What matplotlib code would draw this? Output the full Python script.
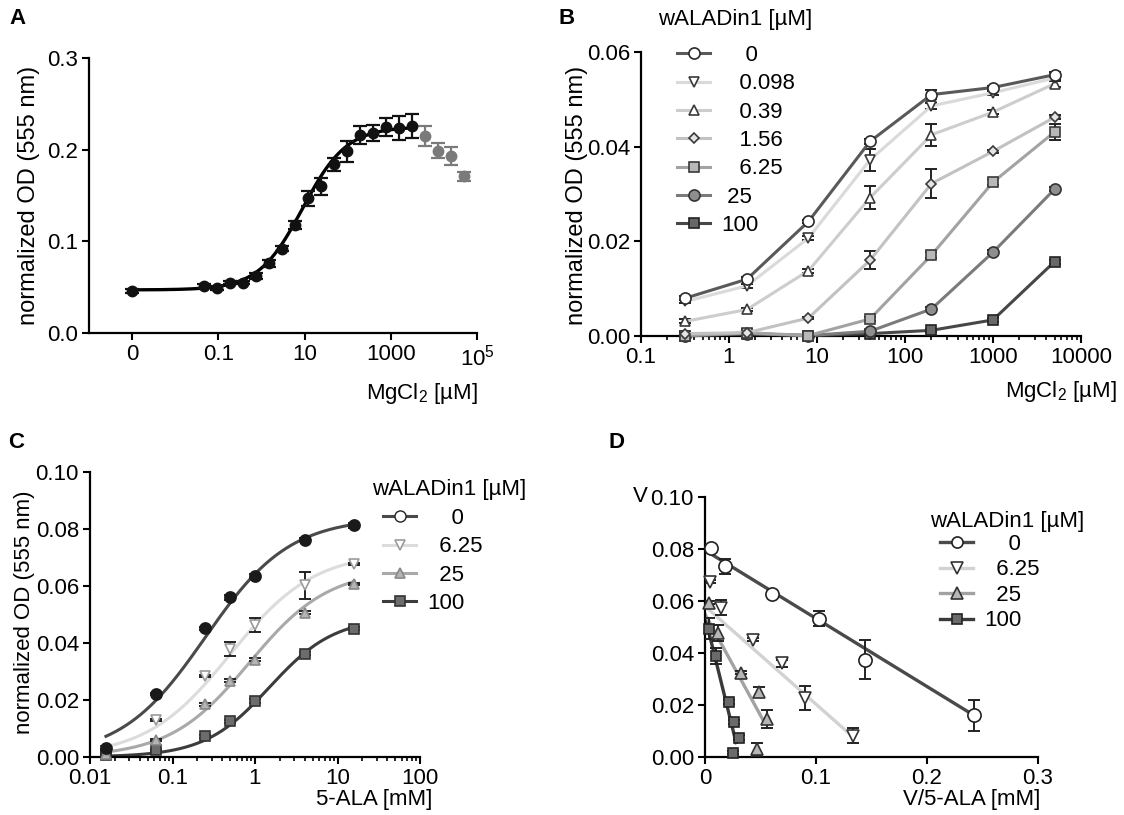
import numpy as np
import matplotlib.pyplot as plt
from matplotlib.ticker import FixedLocator, FixedFormatter, LogLocator, NullLocator, NullFormatter
from matplotlib.lines import Line2D

plt.rcParams['font.family'] = ['Liberation Sans', 'DejaVu Sans']
plt.rcParams['mathtext.fontset'] = 'custom'
plt.rcParams['mathtext.rm'] = 'Liberation Sans'
plt.rcParams['mathtext.it'] = 'Liberation Sans'
plt.rcParams['font.size'] = 16
plt.rcParams['axes.linewidth'] = 1.6

W, H = 1124, 815

# ---- Panel A: MgCl2 titration (0 is drawn at the 1e-3 position) ----
mg_a = [0, 0.0477, 0.0954, 0.191, 0.381, 0.763, 1.53, 3.05, 6.10, 12.2, 24.4,
        48.8, 97.7, 195, 391, 781, 1563, 3125]
od_a = [0.046, 0.051, 0.049, 0.055, 0.055, 0.062, 0.076, 0.092, 0.118, 0.147, 0.160,
        0.184, 0.198, 0.216, 0.218, 0.225, 0.224, 0.226]
err_a = [0.002, 0.002, 0.002, 0.002, 0.002, 0.003, 0.004, 0.003, 0.004, 0.008, 0.009,
         0.007, 0.011, 0.010, 0.009, 0.010, 0.013, 0.013]
mg_a_gray = [6250, 12500, 25000, 50000]
od_a_gray = [0.215, 0.199, 0.193, 0.171]
err_a_gray = [0.011, 0.008, 0.010, 0.005]
# 4PL fit
fit_a = {'bottom': 0.047, 'top': 0.225, 'ec50': 9.0, 'hill': 0.85}

# ---- Panel B: MgCl2 x wALADin1 ----
mg_b = [0.32, 1.6, 8, 40, 200, 1000, 5000]
lab_b = ['0', '0.098', '0.39', '1.56', '6.25', '25', '100']
od_b = {
    '0':     [0.0080, 0.0120, 0.0242, 0.0411, 0.0510, 0.0525, 0.0552],
    '0.098': [0.0073, 0.0106, 0.0207, 0.0372, 0.0486, 0.0514, 0.0545],
    '0.39':  [0.0031, 0.0056, 0.0138, 0.0292, 0.0425, 0.0473, 0.0533],
    '1.56':  [0.0005, 0.0007, 0.0038, 0.0160, 0.0322, 0.0390, 0.0462],
    '6.25':  [0.0001, 0.0007, 0.0001, 0.0036, 0.0171, 0.0325, 0.0431],
    '25':    [0.0001, 0.0005, 0.0001, 0.0010, 0.0057, 0.0177, 0.0310],
    '100':   [0.0000, 0.0005, 0.0001, 0.0005, 0.0012, 0.0034, 0.0157],
}
err_b = {
    '0':     [0.0004, 0.0004, 0.0004, 0.0006, 0.0010, 0.0004, 0.0006],
    '0.098': [0.0004, 0.0004, 0.0004, 0.0023, 0.0006, 0.0004, 0.0004],
    '0.39':  [0.0004, 0.0004, 0.0004, 0.0024, 0.0023, 0.0004, 0.0006],
    '1.56':  [0.0003, 0.0003, 0.0003, 0.0019, 0.0030, 0.0004, 0.0004],
    '6.25':  [0.0003, 0.0003, 0.0003, 0.0004, 0.0006, 0.0006, 0.0017],
    '25':    [0.0003, 0.0003, 0.0003, 0.0003, 0.0004, 0.0004, 0.0004],
    '100':   [0.0003, 0.0003, 0.0003, 0.0003, 0.0003, 0.0004, 0.0004],
}

# ---- Panel C: 5-ALA x wALADin1 ----
ala_c = [0.0156, 0.0625, 0.25, 0.5, 1, 4, 16]
lab_c = ['0', '6.25', '25', '100']
od_c = {
    '0':    [0.0032, 0.0221, 0.0452, 0.0560, 0.0635, 0.0763, 0.0813],
    '6.25': [0.0020, 0.0130, 0.0284, 0.0380, 0.0464, 0.0602, 0.0677],
    '25':   [0.0012, 0.0059, 0.0185, 0.0268, 0.0341, 0.0507, 0.0607],
    '100':  [0.0006, 0.0024, 0.0072, 0.0125, 0.0196, 0.0362, 0.0450],
}
err_c = {
    '0':    [0.0005, 0.0005, 0.0005, 0.0008, 0.0008, 0.0005, 0.0008],
    '6.25': [0.0003, 0.0005, 0.0005, 0.0025, 0.0025, 0.0048, 0.0005],
    '25':   [0.0003, 0.0003, 0.0005, 0.0005, 0.0005, 0.0005, 0.0005],
    '100':  [0.0003, 0.0003, 0.0005, 0.0005, 0.0008, 0.0005, 0.0005],
}
# Hill fits (vmax, K, n)
fit_c = {
    '0':    (0.084, 0.25, 0.85),
    '6.25': (0.072, 0.50, 0.85),
    '25':   (0.066, 0.85, 0.90),
    '100':  (0.049, 1.50, 1.10),
}

# ---- Panel D: Eadie-Hofstee ----
vs_d = {
    '0':    [0.0055, 0.0182, 0.0606, 0.1024, 0.1442, 0.2427],
    '6.25': [0.0045, 0.0145, 0.0433, 0.0691, 0.0897, 0.1333],
    '25':   [0.0039, 0.0121, 0.0321, 0.0485, 0.0561, 0.0464],
    '100':  [0.0033, 0.0100, 0.0215, 0.0261, 0.0306, 0.0251],
}
v_d = {
    '0':    [0.0804, 0.0733, 0.0626, 0.0532, 0.0374, 0.0160],
    '6.25': [0.0674, 0.0575, 0.0451, 0.0360, 0.0227, 0.0082],
    '25':   [0.0594, 0.0477, 0.0324, 0.0250, 0.0147, 0.0030],
    '100':  [0.0493, 0.0389, 0.0211, 0.0134, 0.0075, 0.0017],
}
err_d = {
    '0':    [0.0008, 0.0030, 0.0008, 0.0030, 0.0075, 0.0060],
    '6.25': [0.0005, 0.0030, 0.0005, 0.0015, 0.0045, 0.0030],
    '25':   [0.0005, 0.0030, 0.0005, 0.0020, 0.0035, 0.0025],
    '100':  [0.0040, 0.0030, 0.0008, 0.0008, 0.0008, 0.0005],
}
# linear fits (intercept, slope, last x)
fit_d = {
    '0':    (0.0795, -0.262, 0.245),
    '6.25': (0.0580, -0.377, 0.134),
    '25':   (0.0550, -0.780, 0.053),
    '100':  (0.0540, -1.730, 0.028),
}

# styles: line colour, marker, face, edge, size
sty_b = {
    '0':     ('#595959', 'o', 'white', '#2a2a2a', 8),
    '0.098': ('#dadada', 'v', 'white', '#3a3a3a', 7),
    '0.39':  ('#cdcdcd', '^', 'white', '#3a3a3a', 7),
    '1.56':  ('#c2c2c2', 'D', '#e4e4e4', '#3a3a3a', 5.5),
    '6.25':  ('#a3a3a3', 's', '#b8b8b8', '#3a3a3a', 7.5),
    '25':    ('#7b7b7b', 'o', '#8e8e8e', '#333333', 8),
    '100':   ('#474747', 's', '#686868', '#222222', 7.5),
}
sty_c = {
    '0':    ('#4a4a4a', 'o', '#1a1a1a', '#1a1a1a', 8),
    '6.25': ('#dcdcdc', 'v', 'white', '#9a9a9a', 7.5),
    '25':   ('#a9a9a9', '^', '#b4b4b4', '#888888', 7.5),
    '100':  ('#3c3c3c', 's', '#6c6c6c', '#333333', 7.5),
}
sty_d = {
    '0':    ('#4a4a4a', 'o', 'white', '#222222', 9.5),
    '6.25': ('#d2d2d2', 'v', 'white', '#333333', 8),
    '25':   ('#a2a2a2', '^', '#b6b6b6', '#333333', 8),
    '100':  ('#3a3a3a', 's', '#6a6a6a', '#222222', 7.5),
}
pad = {'0': '    ', '0.098': '   ', '0.39': '   ', '1.56': '   ', '6.25': '   ',
       '25': ' ', '100': ''}
pad_cd = {'0': '    ', '6.25': '  ', '25': '  ', '100': ''}


def add_axes(left, right, top, bottom):
    ax = fig.add_axes([left / W, 1 - bottom / H, (right - left) / W, (bottom - top) / H])
    ax.spines['top'].set_visible(False)
    ax.spines['right'].set_visible(False)
    ax.tick_params(direction='out', length=5, width=1.5, pad=3)
    ax.tick_params(which='minor', direction='out', length=3, width=1.2)
    return ax


def ftext(x, y, s, **kw):
    fig.text(x / W, 1 - y / H, s, **kw)


def legend_at(ax, handles, labels, x, y, spacing=0.33):
    ax.legend(handles, labels, loc='upper left', frameon=False,
              bbox_to_anchor=(x / W, 1 - y / H), bbox_transform=fig.transFigure,
              borderpad=0, handlelength=1.5, handletextpad=0.5, labelspacing=spacing,
              numpoints=1, borderaxespad=0)


fig = plt.figure(figsize=(W / 100, H / 100), dpi=100)

# ---------------- A ----------------
ax = add_axes(89, 477, 58, 333)
xa = [1e-3 if v == 0 else v for v in mg_a]
xf = np.logspace(-3, np.log10(mg_a[-1]), 300)
yf = fit_a['bottom'] + (fit_a['top'] - fit_a['bottom']) / (1 + (fit_a['ec50'] / xf) ** fit_a['hill'])
ax.plot(xf, yf, color='black', lw=2.4, zorder=2)
ax.errorbar(xa, od_a, yerr=err_a, fmt='o', color='#111111', ms=7.5, ecolor='#111111',
            elinewidth=1.6, capsize=5, capthick=1.6, zorder=3)
ax.errorbar(mg_a_gray, od_a_gray, yerr=err_a_gray, fmt='o', color='#7a7a7a', ms=7.5,
            ecolor='#7a7a7a', elinewidth=1.6, capsize=5, capthick=1.6, zorder=3)
ax.set_xscale('log')
ax.set_xlim(1e-4, 1e5)
ax.set_ylim(0, 0.3)
ax.xaxis.set_major_locator(FixedLocator([1e-3, 1e-1, 1e1, 1e3, 1e5]))
ax.xaxis.set_major_formatter(FixedFormatter(['0', '0.1', '10', '1000', r'$10^5$']))
ax.xaxis.set_minor_locator(NullLocator())
ax.set_yticks([0, 0.1, 0.2, 0.3])
ax.set_yticklabels(['0.0', '0.1', '0.2', '0.3'])
ftext(478, 393, r'MgCl$_2$ [µM]', ha='right', va='center')
ftext(29, 195, 'normalized OD (555 nm)', rotation=90, ha='center', va='center', fontsize=17)
ftext(18, 18, 'A', fontweight='bold', ha='center', va='center')

# ---------------- B ----------------
ax = add_axes(641, 1081, 52, 336)
handles = []
for lab in lab_b[::-1]:
    lc, mk, fc, ec, ms = sty_b[lab]
    ax.errorbar(mg_b, od_b[lab], yerr=err_b[lab], fmt='none', ecolor='#222222',
                elinewidth=1.4, capsize=4, capthick=1.4, zorder=2)
    ln, = ax.plot(mg_b, od_b[lab], color=lc, lw=2.2, marker=mk, mfc=fc, mec=ec, mew=1.2,
                  ms=ms, clip_on=False, zorder=3)
    handles.append(ln)
handles = handles[::-1]
ax.set_xscale('log')
ax.set_xlim(0.1, 10000)
ax.set_ylim(0, 0.06)
ax.xaxis.set_major_locator(FixedLocator([0.1, 1, 10, 100, 1000, 10000]))
ax.xaxis.set_major_formatter(FixedFormatter(['0.1', '1', '10', '100', '1000', '10000']))
ax.xaxis.set_minor_locator(LogLocator(base=10, subs=np.arange(2, 10), numticks=20))
ax.xaxis.set_minor_formatter(NullFormatter())
ax.set_yticks([0, 0.02, 0.04, 0.06])
ax.set_yticklabels(['0.00', '0.02', '0.04', '0.06'])
legend_at(ax, handles, [pad[l] + l for l in lab_b], 677, 45)
ftext(658, 20, 'wALADin1 [µM]', ha='left', va='center')
ftext(1117, 392, r'MgCl$_2$ [µM]', ha='right', va='center')
ftext(577, 195, 'normalized OD (555 nm)', rotation=90, ha='center', va='center', fontsize=17)
ftext(567, 18, 'B', fontweight='bold', ha='center', va='center')

# ---------------- C ----------------
ax = add_axes(90, 420, 472, 757)
for lab in lab_c[::-1]:
    lc, mk, fc, ec, ms = sty_c[lab]
    vmax, km, n = fit_c[lab]
    xf = np.logspace(np.log10(ala_c[0]), np.log10(ala_c[-1]), 300)
    ax.plot(xf, vmax * xf ** n / (km ** n + xf ** n), color=lc, lw=2.2, zorder=2)
    ax.errorbar(ala_c, od_c[lab], yerr=err_c[lab], fmt='none', ecolor='#222222',
                elinewidth=1.4, capsize=4, capthick=1.4, zorder=3)
    ax.plot(ala_c, od_c[lab], ls='none', marker=mk, mfc=fc, mec=ec, mew=1.2, ms=ms,
            clip_on=False, zorder=4)
ax.set_xscale('log')
ax.set_xlim(0.01, 100)
ax.set_ylim(0, 0.1)
ax.xaxis.set_major_locator(FixedLocator([0.01, 0.1, 1, 10, 100]))
ax.xaxis.set_major_formatter(FixedFormatter(['0.01', '0.1', '1', '10', '100']))
ax.xaxis.set_minor_locator(LogLocator(base=10, subs=np.arange(2, 10), numticks=20))
ax.xaxis.set_minor_formatter(NullFormatter())
ax.set_yticks([0, 0.02, 0.04, 0.06, 0.08, 0.10])
ax.set_yticklabels(['0.00', '0.02', '0.04', '0.06', '0.08', '0.10'])
hc = [Line2D([], [], color='#4a4a4a', lw=2.2, marker='o', mfc='white', mec='#222222', ms=8)]
for lab in lab_c[1:]:
    lc, mk, fc, ec, ms = sty_c[lab]
    hc.append(Line2D([], [], color=lc, lw=2.2, marker=mk, mfc=fc, mec=ec, mew=1.2, ms=ms))
legend_at(ax, hc, [pad_cd[l] + l for l in lab_c], 383, 508)
ftext(372, 490, 'wALADin1 [µM]', ha='left', va='center')
ftext(432, 800, '5-ALA [mM]', ha='right', va='center')
ftext(25, 612, 'normalized OD (555 nm)', rotation=90, ha='center', va='center')
ftext(16, 443, 'C', fontweight='bold', ha='center', va='center')

# ---------------- D ----------------
ax = add_axes(705, 1038, 497, 757)
for lab in lab_c[::-1]:
    lc, mk, fc, ec, ms = sty_d[lab]
    b0, m, xend = fit_d[lab]
    ax.plot([0, xend], [b0, b0 + m * xend], color=lc, lw=2.4, zorder=2)
    ax.errorbar(vs_d[lab], v_d[lab], yerr=err_d[lab], fmt='none', ecolor='#222222',
                elinewidth=1.4, capsize=4, capthick=1.4, zorder=3)
    ax.plot(vs_d[lab], v_d[lab], ls='none', marker=mk, mfc=fc, mec=ec, mew=1.2, ms=ms,
            clip_on=False, zorder=4)
ax.set_xlim(0, 0.3)
ax.set_ylim(0, 0.1)
ax.set_xticks([0, 0.1, 0.2, 0.3])
ax.set_xticklabels(['0', '0.1', '0.2', '0.3'])
ax.set_yticks([0, 0.02, 0.04, 0.06, 0.08, 0.10])
ax.set_yticklabels(['0.00', '0.02', '0.04', '0.06', '0.08', '0.10'])
hd = []
for lab in lab_c:
    lc, mk, fc, ec, ms = sty_d[lab]
    hd.append(Line2D([], [], color=lc, lw=2.4, marker=mk, mfc=fc, mec=ec, mew=1.2,
                     ms=min(ms, 8)))
legend_at(ax, hd, [pad_cd[l] + l for l in lab_c], 940, 534, spacing=0.2)
ftext(930, 521, 'wALADin1 [µM]', ha='left', va='center')
ftext(1040, 800, 'V/5-ALA [mM]', ha='right', va='center')
ftext(640, 497, 'V', ha='center', va='center')
ftext(616, 443, 'D', fontweight='bold', ha='center', va='center')

fig.savefig('out.png', dpi=100)
